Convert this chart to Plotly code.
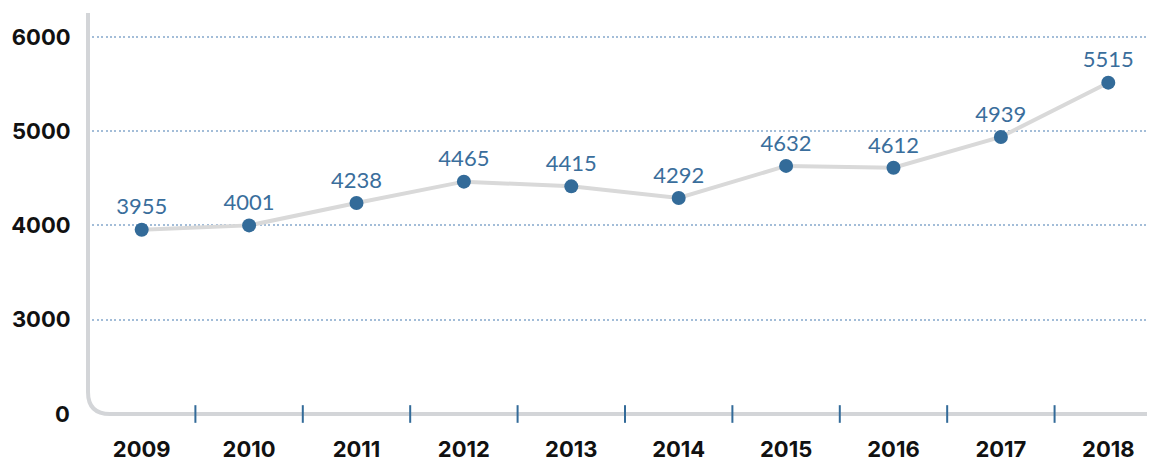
import plotly.graph_objects as go

# Data
years = ["2009", "2010", "2011", "2012", "2013", "2014", "2015", "2016", "2017", "2018"]
values = [3955, 4001, 4238, 4465, 4415, 4292, 4632, 4612, 4939, 5515]

# Broken y axis: the bottom of the axis is labelled 0
y_ticks = [3000, 4000, 5000, 6000]
y_ticktext = ["3000", "4000", "5000", "6000"]
y_floor = 2000
y_floor_label = "0"

blue = "#336b99"
gray = "#d3d5d8"
label_font = dict(family="Inter", size=22, color="#111111", weight=700)

fig = go.Figure()

fig.add_trace(go.Scatter(
    x=years, y=values,
    mode="lines+markers+text",
    line=dict(color="#d9d9d9", width=4),
    marker=dict(color=blue, size=14),
    text=[str(v) for v in values],
    textposition="top center",
    textfont=dict(family="Lato", size=22, color="#3a6e9c"),
    hoverinfo="skip",
    cliponaxis=False,
))

# rounded axis line (left + bottom)
rx, ry = 22 / 1067, 22 / 401
fig.add_shape(
    type="path", xref="paper", yref="paper",
    path=f"M 0,1 L 0,{ry} Q 0,0 {rx},0 L 1,0",
    line=dict(color=gray, width=4), layer="above",
)

# small ticks between categories
for i in range(len(years) - 1):
    fig.add_shape(
        type="line", xref="x", yref="paper",
        x0=i + 0.5, x1=i + 0.5, y0=-0.022, y1=0.022,
        line=dict(color=blue, width=2), layer="above",
    )

fig.add_annotation(
    x=0, xref="paper", xanchor="right", xshift=-16,
    y=y_floor, yref="y", text=y_floor_label, showarrow=False,
    font=label_font,
)

# the page body adds 8px around the figure
fig.update_layout(
    width=1147, height=456,
    margin=dict(l=80, r=0, t=5, b=50),
    paper_bgcolor="white", plot_bgcolor="white",
    showlegend=False,
    xaxis=dict(
        type="category", range=[-0.5, 9.435],
        showgrid=False, showline=False, zeroline=False,
        ticks="outside", ticklen=16, tickcolor="rgba(0,0,0,0)",
        tickfont=label_font,
    ),
    yaxis=dict(
        range=[y_floor, 6254],
        tickvals=y_ticks, ticktext=y_ticktext,
        showgrid=True, gridcolor="#a3bdd8", griddash="2px,2.4px", gridwidth=1.6,
        showline=False, zeroline=False,
        ticks="outside", ticklen=12, tickcolor="rgba(0,0,0,0)",
        tickfont=label_font,
    ),
)

fig.write_html("out.html")
